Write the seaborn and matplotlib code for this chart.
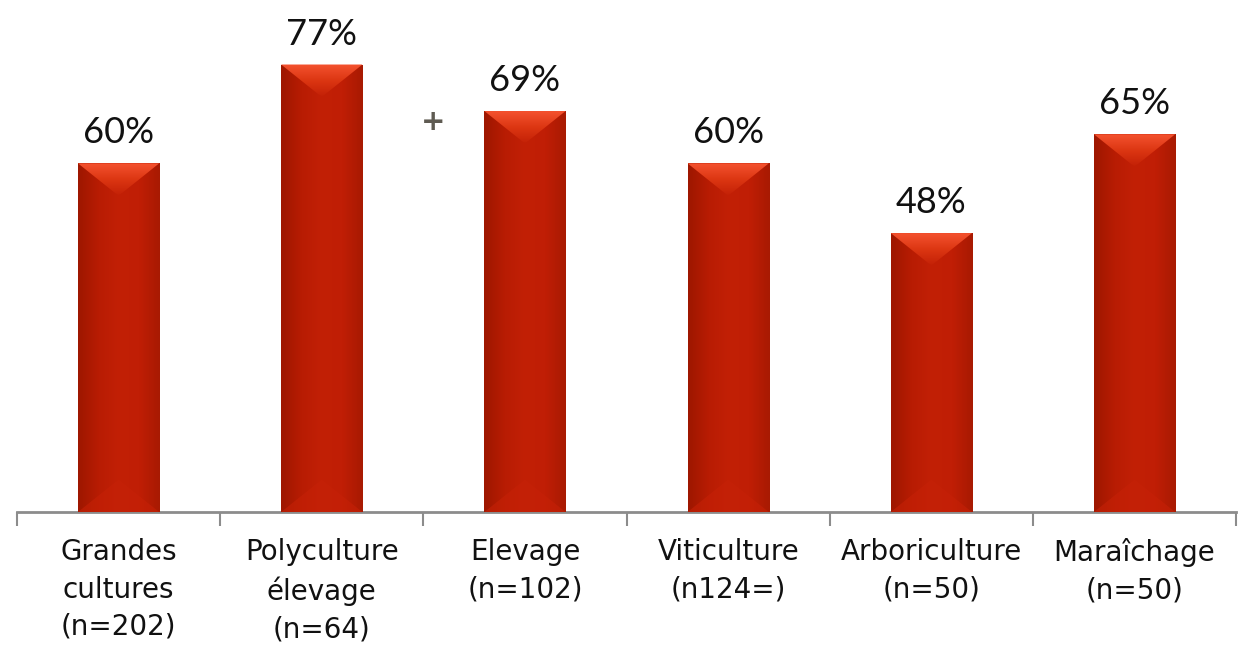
import numpy as np
import pandas as pd
import matplotlib
matplotlib.use("Agg")
import matplotlib.pyplot as plt
import seaborn as sns
from matplotlib.patches import Polygon
from matplotlib.colors import LinearSegmentedColormap

sns.set_theme(style="white")
plt.rcParams['font.family'] = ['DejaVu Sans']

# données
categories = ["Grandes\ncultures\n(n=202)", "Polyculture\nélevage\n(n=64)", "Elevage\n(n=102)",
              "Viticulture\n(n124=)", "Arboriculture\n(n=50)", "Maraîchage\n(n=50)"]
valeurs = [60, 77, 69, 60, 48, 65]
etiquettes = ["60%", "77%", "69%", "60%", "48%", "65%"]

df = pd.DataFrame({"cat": categories, "val": valeurs})

fig = plt.figure(figsize=(12.39, 6.49), dpi=100)
ax = fig.add_axes([0.0137, 0.211, 0.984, 0.789])

sns.barplot(data=df, x="cat", y="val", color="#bf1e05", width=0.40,
            saturation=1, ax=ax, zorder=2)

ax.set_xlim(-0.5, 5.5)
ax.set_ylim(0, 88.1)

# dégradés sur les barres
corps = LinearSegmentedColormap.from_list("corps", ["#9e1700", "#b81c03", "#c22006", "#c01e05", "#a81a02"])
haut = LinearSegmentedColormap.from_list("haut", ["#f4522f", "#dc3612", "#c22006"])

fig.canvas.draw()
px_x = ax.transData.transform((1, 0))[0] - ax.transData.transform((0, 0))[0]
px_y = ax.transData.transform((0, 1))[1] - ax.transData.transform((0, 0))[1]

for p, lab in zip(ax.patches, etiquettes):
    x0, w, h = p.get_x(), p.get_width(), p.get_height()
    x1, xc = x0 + w, x0 + w / 2
    grad = np.linspace(0, 1, 100).reshape(1, -1)
    im = ax.imshow(grad, cmap=corps, aspect="auto", extent=[x0, x1, 0, h], zorder=3)
    im.set_clip_path(p)
    # biseau du haut
    d = 0.8 * (w / 2) * px_x / px_y
    tri = Polygon([[x0, h], [x1, h], [xc, h - d]], closed=True, facecolor="none", edgecolor="none", zorder=4)
    ax.add_patch(tri)
    vgrad = np.linspace(0, 1, 100).reshape(-1, 1)
    im2 = ax.imshow(vgrad, cmap=haut, aspect="auto", extent=[x0, x1, h - d, h], zorder=4)
    im2.set_clip_path(tri)
    # biseau du bas
    tri2 = Polygon([[x0, 0], [x1, 0], [xc, d]], closed=True, facecolor="#c62107", edgecolor="none",
                   alpha=0.6, zorder=4)
    ax.add_patch(tri2)
    ax.annotate(lab, (xc, h), xytext=(0, 10), textcoords="offset points",
                ha="center", va="bottom", fontsize=26, family=["Lato", "DejaVu Sans"], color="#111111")

# signe +
ax.text(1.547, 67.1, "+", ha="center", va="center", fontsize=21, fontweight="heavy", color="#5f5b52")

for s in ["top", "right", "left"]:
    ax.spines[s].set_visible(False)
ax.spines["bottom"].set_color("#8c8c8c")
ax.spines["bottom"].set_linewidth(2)
ax.set_yticks([])
ax.set_xlabel("")
ax.set_ylabel("")
ax.set_xticks(np.arange(-0.5, 6, 1), minor=True)
ax.tick_params(axis="x", which="minor", length=10, width=1.5, color="#8c8c8c", direction="out", bottom=True)
ax.tick_params(axis="x", which="major", length=0, pad=19, labelsize=20, labelcolor="#111111")
for t in ax.get_xticklabels():
    t.set_linespacing(1.42)

fig.savefig("out.png", dpi=100)
